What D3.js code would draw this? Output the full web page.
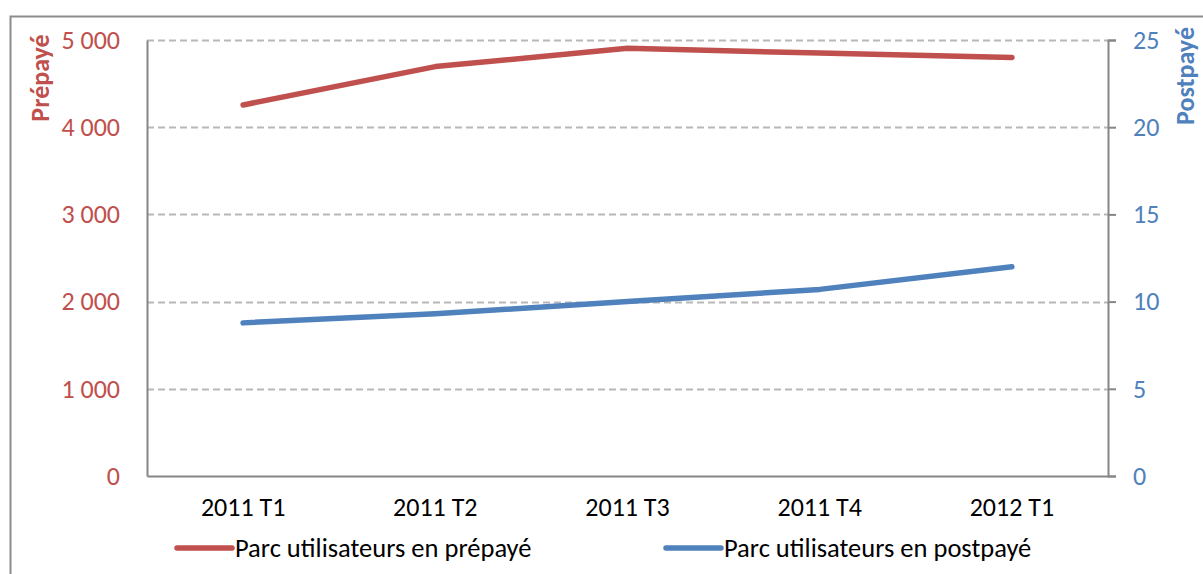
<!DOCTYPE html>
<html><head><meta charset="utf-8">
<script src="https://cdn.jsdelivr.net/npm/d3@7/dist/d3.min.js"></script>
<style>
html,body{margin:0;padding:0;background:#fff;}
svg{display:block;font-family:Carlito,"Liberation Sans",Arial,sans-serif;}
</style></head>
<body>
<svg id="chart" width="1203" height="574"></svg>
<script>
const categories = ["2011 T1","2011 T2","2011 T3","2011 T4","2012 T1"];
const prepaye = [4255, 4695, 4905, 4850, 4800];
const postpaye = [8.78, 9.3, 10.0, 10.7, 12.0];
const leftTicks = [0,1000,2000,3000,4000,5000];
const rightTicks = [0,5,10,15,20,25];
const seriesNames = ["Parc utilisateurs en prépayé","Parc utilisateurs en postpayé"];
const colors = ["#C0504D","#4F81BD"];

const FF = 'Carlito,"Liberation Sans",Arial,sans-serif';
const svg = d3.select("#chart");
const m = {left:147, right:1108, top:40, bottom:476};

// outer border
svg.append("path").attr("d","M10.5,600 V16.5 H1220")
  .attr("fill","none").attr("stroke","#8c8c8c").attr("stroke-width",2);

const x = d3.scaleBand().domain(categories).range([m.left,m.right]);
const yL = d3.scaleLinear().domain([0,5000]).range([m.bottom,m.top]);
const yR = d3.scaleLinear().domain([0,25]).range([m.bottom,m.top]);

// gridlines
svg.append("g").selectAll("line").data(leftTicks.filter(d=>d>0)).join("line")
  .attr("x1",m.left).attr("x2",m.right)
  .attr("y1",d=>Math.round(yL(d))+0.5).attr("y2",d=>Math.round(yL(d))+0.5)
  .attr("stroke","#B8B8B8").attr("stroke-width",2).attr("stroke-dasharray","7,4");

const fmt = d => d3.format(",")(d).replace(/,/g," ");

// left axis
const gL = svg.append("g").attr("transform",`translate(${m.left},0)`)
  .call(d3.axisLeft(yL).tickValues(leftTicks).tickFormat(fmt).tickSize(0).tickPadding(27));
gL.attr("font-family",FF).attr("font-size",26);
gL.select(".domain").attr("stroke","#868686").attr("stroke-width",2);
gL.selectAll("text").attr("fill",colors[0]);

// right axis
const gR = svg.append("g").attr("transform",`translate(${m.right},0)`)
  .call(d3.axisRight(yR).tickValues(rightTicks).tickSize(8).tickPadding(17));
gR.attr("font-family",FF).attr("font-size",26);
gR.select(".domain").attr("stroke","#868686").attr("stroke-width",2);
gR.selectAll(".tick line").attr("stroke","#868686").attr("stroke-width",2);
gR.selectAll("text").attr("fill",colors[1]);

// bottom axis
const gB = svg.append("g").attr("transform",`translate(0,${m.bottom})`)
  .call(d3.axisBottom(x).tickSize(0).tickPadding(22));
gB.attr("font-family",FF).attr("font-size",26);
gB.select(".domain").attr("stroke","#868686").attr("stroke-width",2);
gB.selectAll("text").attr("fill","#000");

// axis titles
svg.append("text").attr("transform","translate(49,78) rotate(-90)")
  .attr("text-anchor","middle").attr("fill",colors[0]).attr("font-weight","bold")
  .style("font-size","26px").text("Prépayé");
svg.append("text").attr("transform","translate(1194,76) rotate(-90)")
  .attr("text-anchor","middle").attr("fill",colors[1]).attr("font-weight","bold")
  .style("font-size","26px").text("Postpayé");

// lines
const cx = d => x(d) + x.bandwidth()/2;
const lineL = d3.line().x((d,i)=>cx(categories[i])).y(d=>yL(d));
const lineR = d3.line().x((d,i)=>cx(categories[i])).y(d=>yR(d));
svg.append("path").datum(prepaye).attr("d",lineL).attr("fill","none")
  .attr("stroke",colors[0]).attr("stroke-width",5.5).attr("stroke-linecap","round").attr("stroke-linejoin","round");
svg.append("path").datum(postpaye).attr("d",lineR).attr("fill","none")
  .attr("stroke",colors[1]).attr("stroke-width",5.5).attr("stroke-linecap","round").attr("stroke-linejoin","round");

// legend
const legend = [{name:seriesNames[0],color:colors[0],x:177},{name:seriesNames[1],color:colors[1],x:666}];
const lg = svg.append("g").selectAll("g").data(legend).join("g")
  .attr("transform",d=>`translate(${d.x},548)`);
lg.append("line").attr("x1",0).attr("x2",55).attr("y1",0).attr("y2",0)
  .attr("stroke",d=>d.color).attr("stroke-width",5.5).attr("stroke-linecap","round");
lg.append("text").attr("x",58).attr("y",9).attr("fill","#000").style("font-size","26.5px")
  .text(d=>d.name);
</script>
</body></html>
